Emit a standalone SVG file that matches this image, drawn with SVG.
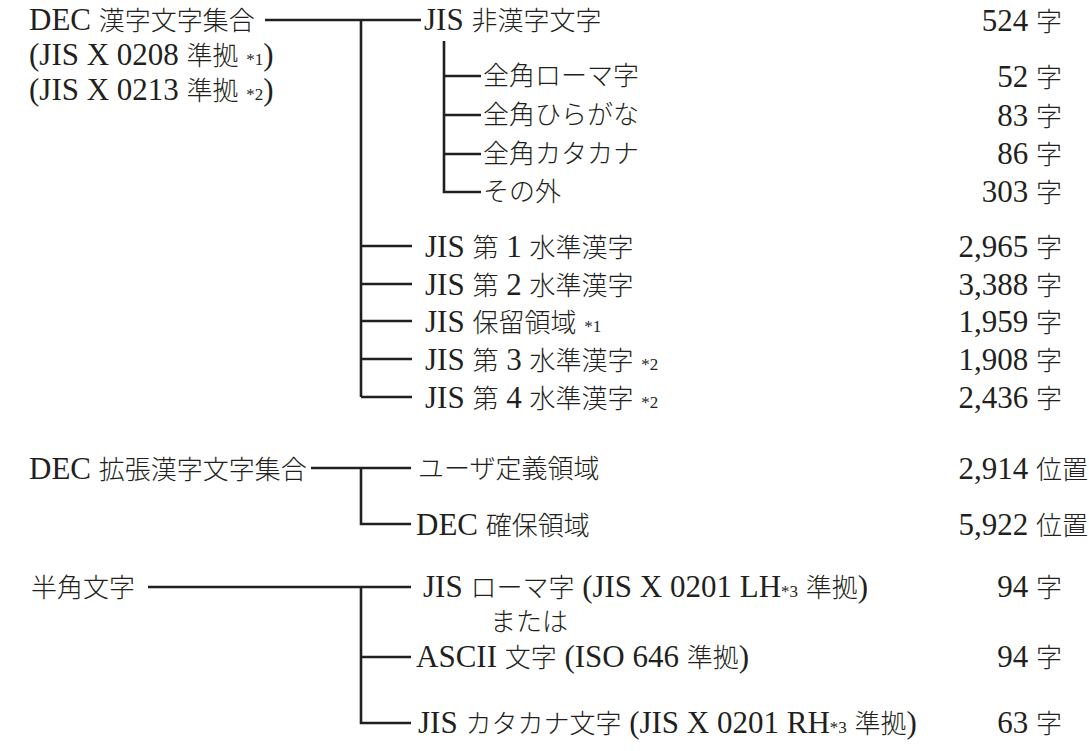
<svg xmlns="http://www.w3.org/2000/svg" width="1089" height="751" viewBox="0 0 1089 751">
<style>
  .l { font-family: "Liberation Serif", "Noto Sans CJK JP", serif; font-size: 31px; fill: #231f20; }
  .k { font-family: "Noto Sans CJK JP", sans-serif; font-size: 26px; font-weight: 300; }
  .n { font-family: "Liberation Serif", serif; font-size: 17px; }
  .c { text-anchor: end; }
  .ln { stroke: #231f20; stroke-width: 2.6; fill: none; stroke-linecap: butt; }
</style>
<rect width="1089" height="751" fill="#ffffff"/>

<g id="connectors">
  <path class="ln" d="M265,20 H421"/>
  <path class="ln" d="M361,20 V397"/>
  <path class="ln" d="M444,41 V192 H481"/>
  <path class="ln" d="M444,76 H481 M444,115 H481 M444,154 H481"/>
  <path class="ln" d="M361,246 H412 M361,284 H412 M361,321 H412 M361,359 H412 M361,397 H412"/>
  <path class="ln" d="M311,468 H411 M361,468 V524 H411"/>
  <path class="ln" d="M148,587 H411 M361,587 V723 H411 M361,657 H411"/>
</g>

<g id="dec-kanji-set">
  <text class="l" x="29" y="30">DEC <tspan class="k">漢字文字集合</tspan></text>
  <text class="l" x="29" y="65">(JIS X 0208 <tspan class="k">準拠</tspan> <tspan class="n">*1</tspan>)</text>
  <text class="l" x="29" y="100">(JIS X 0213 <tspan class="k">準拠</tspan> <tspan class="n">*2</tspan>)</text>
</g>

<g id="jis-nonkanji">
  <text class="l" x="424" y="30">JIS <tspan class="k">非漢字文字</tspan></text>
  <text class="l c" x="1062" y="31">524 <tspan class="k">字</tspan></text>
</g>
<g id="zen-roman">
  <text class="l" x="483" y="85"><tspan class="k">全角ローマ字</tspan></text>
  <text class="l c" x="1062" y="87">52 <tspan class="k">字</tspan></text>
</g>
<g id="zen-hiragana">
  <text class="l" x="483" y="124"><tspan class="k">全角ひらがな</tspan></text>
  <text class="l c" x="1062" y="126">83 <tspan class="k">字</tspan></text>
</g>
<g id="zen-katakana">
  <text class="l" x="483" y="163"><tspan class="k">全角カタカナ</tspan></text>
  <text class="l c" x="1062" y="164">86 <tspan class="k">字</tspan></text>
</g>
<g id="sonota">
  <text class="l" x="483" y="201"><tspan class="k">その外</tspan></text>
  <text class="l c" x="1062" y="202">303 <tspan class="k">字</tspan></text>
</g>

<g id="jis-level1">
  <text class="l" x="425" y="257">JIS <tspan class="k">第</tspan> 1 <tspan class="k">水準漢字</tspan></text>
  <text class="l c" x="1062" y="257">2,965 <tspan class="k">字</tspan></text>
</g>
<g id="jis-level2">
  <text class="l" x="425" y="295">JIS <tspan class="k">第</tspan> 2 <tspan class="k">水準漢字</tspan></text>
  <text class="l c" x="1062" y="295">3,388 <tspan class="k">字</tspan></text>
</g>
<g id="jis-reserved">
  <text class="l" x="425" y="332">JIS <tspan class="k">保留領域</tspan> <tspan class="n">*1</tspan></text>
  <text class="l c" x="1062" y="332">1,959 <tspan class="k">字</tspan></text>
</g>
<g id="jis-level3">
  <text class="l" x="425" y="370">JIS <tspan class="k">第</tspan> 3 <tspan class="k">水準漢字</tspan> <tspan class="n">*2</tspan></text>
  <text class="l c" x="1062" y="370">1,908 <tspan class="k">字</tspan></text>
</g>
<g id="jis-level4">
  <text class="l" x="425" y="408">JIS <tspan class="k">第</tspan> 4 <tspan class="k">水準漢字</tspan> <tspan class="n">*2</tspan></text>
  <text class="l c" x="1062" y="408">2,436 <tspan class="k">字</tspan></text>
</g>

<g id="dec-ext-set">
  <text class="l" x="29" y="479">DEC <tspan class="k">拡張漢字文字集合</tspan></text>
</g>
<g id="user-defined">
  <text class="l" x="418" y="478"><tspan class="k">ユーザ定義領域</tspan></text>
  <text class="l c" x="1088" y="479">2,914 <tspan class="k">位置</tspan></text>
</g>
<g id="dec-reserved">
  <text class="l" x="416" y="535">DEC <tspan class="k">確保領域</tspan></text>
  <text class="l c" x="1088" y="535">5,922 <tspan class="k">位置</tspan></text>
</g>

<g id="hankaku">
  <text class="l" x="31" y="597"><tspan class="k">半角文字</tspan></text>
</g>
<g id="jis-roman">
  <text class="l" x="423" y="597">JIS <tspan class="k">ローマ字</tspan> (JIS X 0201 LH<tspan class="n">*3</tspan> <tspan class="k">準拠</tspan>)</text>
  <text class="l" x="490" y="631"><tspan class="k">または</tspan></text>
  <text class="l c" x="1062" y="597">94 <tspan class="k">字</tspan></text>
</g>
<g id="ascii">
  <text class="l" x="416" y="667">ASCII <tspan class="k">文字</tspan> (ISO 646 <tspan class="k">準拠</tspan>)</text>
  <text class="l c" x="1062" y="667">94 <tspan class="k">字</tspan></text>
</g>
<g id="jis-katakana">
  <text class="l" x="418" y="733">JIS <tspan class="k">カタカナ文字</tspan> (JIS X 0201 RH<tspan class="n">*3</tspan> <tspan class="k">準拠</tspan>)</text>
  <text class="l c" x="1062" y="733">63 <tspan class="k">字</tspan></text>
</g>
</svg>
